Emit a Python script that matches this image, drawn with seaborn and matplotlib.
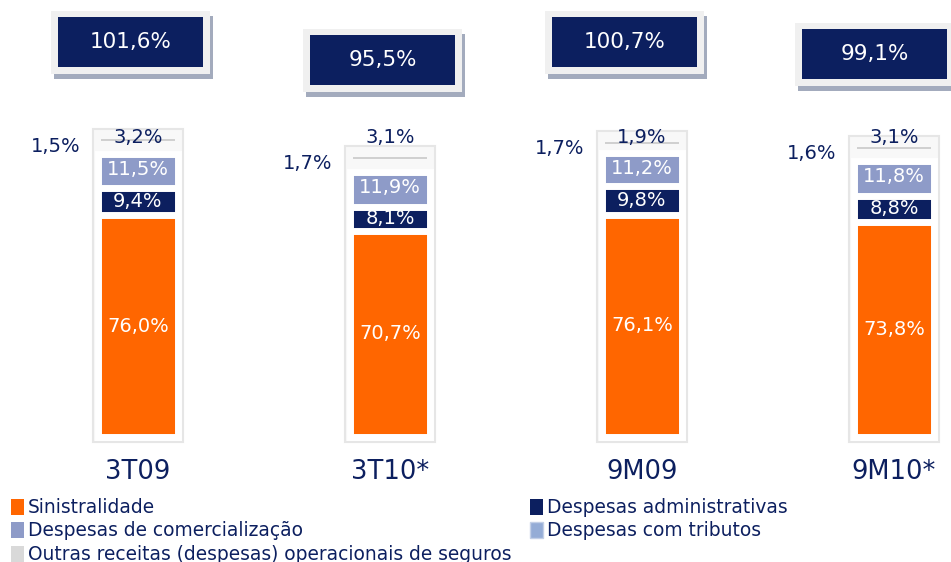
import matplotlib
matplotlib.use("Agg")
import matplotlib.pyplot as plt
from matplotlib.patches import Rectangle, Patch
import seaborn as sns
import numpy as np
import pandas as pd

# ---------------- data ----------------
categories = ["3T09", "3T10*", "9M09", "9M10*"]
sinistralidade = [76.0, 70.7, 76.1, 73.8]
desp_admin = [9.4, 8.1, 9.8, 8.8]
desp_comerc = [11.5, 11.9, 11.2, 11.8]
desp_tributos = [1.5, 1.7, 1.7, 1.6]
outras = [3.2, 3.1, 1.9, 3.1]
indice_combinado = ["101,6%", "95,5%", "100,7%", "99,1%"]

series_names = ["Sinistralidade", "Despesas administrativas", "Despesas de comercialização",
                "Despesas com tributos", "Outras receitas (despesas) operacionais de seguros"]

# ---------------- style ----------------
NAVY = "#0c1f5f"
ORANGE = "#ff6600"
LAVENDER = "#8e9bc8"
TRIB = "#94acd6"
GRAY = "#d9d9d9"

W, H, DPI = 951, 562, 100
sns.set_theme(style="white")
plt.rcParams["font.family"] = ["DejaVu Sans"]

fig = plt.figure(figsize=(W / DPI, H / DPI), dpi=DPI)
fig.patch.set_facecolor("white")
ax = fig.add_axes([0, 0, 1, 1])
ax.set_facecolor("white")

# layout (pixels)
base_px = 437.0
scale = 2.92
x0_px, step_px = 138.0, 252.0

df = pd.DataFrame({
    "cat": categories,
    "s1": sinistralidade,
    "s2": desp_admin,
    "s3": desp_comerc,
    "s4": desp_tributos,
    "s5": outras,
})
df["c1"] = df["s1"]
df["c2"] = df["c1"] + df["s2"]
df["c3"] = df["c2"] + df["s3"]
df["c4"] = df["c3"] + df["s4"]
df["c5"] = df["c4"] + df["s5"]
xs = np.arange(len(categories))

# background frame behind each bar
ax.bar(xs, df["c5"] + 4.0 + 1.6, bottom=-1.6, width=0.357, color="#f8f8f8",
       edgecolor="#e6e6e6", linewidth=1.5, zorder=0)

bw = 0.317
lw = 5
# stacked via overlapping cumulative bars (largest first)
sns.barplot(data=df, x="cat", y="c3", color=LAVENDER, saturation=1, width=bw,
            edgecolor="white", linewidth=lw, ax=ax, zorder=2)
sns.barplot(data=df, x="cat", y="c2", color=NAVY, saturation=1, width=bw,
            edgecolor="white", linewidth=lw, ax=ax, zorder=3)
sns.barplot(data=df, x="cat", y="c1", color=ORANGE, saturation=1, width=bw,
            edgecolor="white", linewidth=lw, ax=ax, zorder=4)

# thin grey line marking the top of the stack (outras)
ax.hlines(df["c5"], xs - bw / 2 + 0.012, xs + bw / 2 - 0.012, color="#c8c8c8", lw=1.2, zorder=3)

ax.set_xlim(-x0_px / step_px, (W - x0_px) / step_px)
ax.set_ylim(-(H - base_px) / scale, base_px / scale)
ax.axis("off")

def fmt(v):
    return f"{v:.1f}%".replace(".", ",")

# segment labels
for i, r in df.iterrows():
    ax.text(i, r["s1"] / 2, fmt(r["s1"]), ha="center", va="center",
            color="white", fontsize=14, zorder=6)
    ax.text(i, r["c1"] + r["s2"] / 2, fmt(r["s2"]), ha="center",
            va="center", color="white", fontsize=14, zorder=6)
    ax.text(i, r["c2"] + r["s3"] / 2 + 0.6, fmt(r["s3"]), ha="center",
            va="center", color="white", fontsize=14, zorder=6)
    ax.text(i - 0.23, r["c5"] - 2.0, fmt(r["s4"]), ha="right",
            va="center", color=NAVY, fontsize=14, zorder=6)
    ax.text(i, df["c5"].max() + 1.0, fmt(r["s5"]), ha="center",
            va="center", color=NAVY, fontsize=14, zorder=6)
    ax.text(i, -12.0, r["cat"], ha="center", va="center", color=NAVY, fontsize=18.5)

# top boxes (combined ratio)
box_dx_px = [-7.5, -7.5, -17.5, -19.5]
box_y_px = [42, 60, 42, 54]
bwid, bhei = 145, 50
def fx(px):
    return px / W
def fy(py):
    return 1 - py / H
for i, lab in enumerate(indice_combinado):
    cx = x0_px + i * step_px + box_dx_px[i]
    cy = box_y_px[i]
    # shadow
    fig.patches.append(Rectangle((fx(cx - bwid / 2 - 4), fy(cy + bhei / 2 + 12)),
                                 (bwid + 14) / W, (bhei + 13) / H, transform=fig.transFigure,
                                 facecolor="#a3abbd", edgecolor="none", zorder=1))
    # light frame
    fig.patches.append(Rectangle((fx(cx - bwid / 2 - 7), fy(cy + bhei / 2 + 7)),
                                 (bwid + 14) / W, (bhei + 13) / H, transform=fig.transFigure,
                                 facecolor="#f0f0f0", edgecolor="none", zorder=2))
    # navy box
    fig.patches.append(Rectangle((fx(cx - bwid / 2), fy(cy + bhei / 2)),
                                 bwid / W, bhei / H, transform=fig.transFigure,
                                 facecolor=NAVY, edgecolor="none", zorder=3))
    fig.text(fx(cx), fy(cy), lab, ha="center", va="center", color="white", fontsize=15.5,
             zorder=4)

# legend
handles = [Patch(facecolor=ORANGE, edgecolor="none"),
           Patch(facecolor=LAVENDER, edgecolor="none"),
           Patch(facecolor=GRAY, edgecolor="none"),
           Patch(facecolor=NAVY, edgecolor="none"),
           Patch(facecolor=TRIB, edgecolor="#c2cfe6")]
labels = [series_names[0], series_names[2], series_names[4], series_names[1], series_names[3]]
fig.legend(handles, labels, ncol=2, loc="upper left", bbox_to_anchor=(fx(11), fy(498)),
           frameon=False, fontsize=13.4, handlelength=0.7, handleheight=0.95,
           handletextpad=0.2, labelspacing=0.24, columnspacing=1.0, borderaxespad=0,
           borderpad=0, labelcolor=NAVY)

fig.savefig("out.png", dpi=DPI, facecolor="white")
